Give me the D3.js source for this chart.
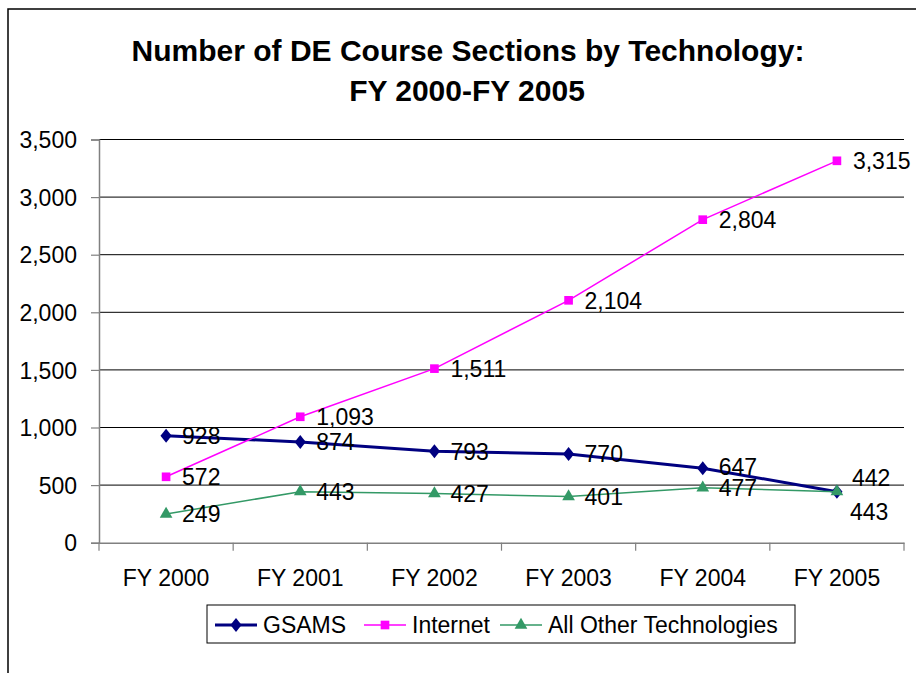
<!DOCTYPE html>
<meta charset="utf-8">
<script src="https://d3js.org/d3.v7.min.js"></script>
<style>
body { margin: 0; background: #fff; }
svg text { font-family: "Liberation Sans", Arial, sans-serif; fill: #000; }
</style>
<div id="chart"></div>
<script>

// data
var years = ["FY 2000", "FY 2001", "FY 2002", "FY 2003", "FY 2004", "FY 2005"];
var gsams = [928, 874, 793, 770, 647, 442];
var internet = [572, 1093, 1511, 2104, 2804, 3315];
var otherTech = [249, 443, 427, 401, 477, 443];
var yTicks = [0, 500, 1000, 1500, 2000, 2500, 3000, 3500];

var series = [
  {name: "GSAMS", values: gsams, color: "#000080", width: 3, marker: d3.symbolDiamond, size: 70},
  {name: "Internet", values: internet, color: "#FF00FF", width: 1.5, marker: d3.symbolSquare, size: 75},
  {name: "All Other Technologies", values: otherTech, color: "#339966", width: 1.5, marker: d3.symbolTriangle, size: 70}
];

var W = 916, H = 673;
var plot = {left: 99, right: 904, top: 139.5, bottom: 542.7};

var svg = d3.select("#chart")
  .append("svg")
    .attr("width", W)
    .attr("height", H);

// outer frame
svg.append("rect")
  .attr("x", 8).attr("y", 9)
  .attr("width", W).attr("height", H)
  .attr("fill", "none")
  .attr("stroke", "#000")
  .attr("stroke-width", 1.5);

// title
svg.append("text")
  .attr("x", 468).attr("y", 60.5)
  .attr("text-anchor", "middle")
  .style("font-size", "30px")
  .style("font-weight", "bold")
  .text("Number of DE Course Sections by Technology:");
svg.append("text")
  .attr("x", 467).attr("y", 101)
  .attr("text-anchor", "middle")
  .style("font-size", "30px")
  .style("font-weight", "bold")
  .text("FY 2000-FY 2005");

var x = d3.scaleBand()
  .domain(years)
  .range([plot.left, plot.right]);

var y = d3.scaleLinear()
  .domain([0, 3500])
  .range([plot.bottom, plot.top]);

// gridlines
svg.append("g")
  .selectAll("line")
  .data(yTicks.filter(function(d) { return d > 0; }))
  .enter()
  .append("line")
    .attr("x1", plot.left).attr("x2", plot.right)
    .attr("y1", function(d) { return y(d); })
    .attr("y2", function(d) { return y(d); })
    .attr("stroke", "#000")
    .attr("stroke-width", 1);

// y axis
var yAxis = svg.append("g")
  .attr("transform", "translate(" + plot.left + ",0)")
  .call(d3.axisLeft(y).tickValues(yTicks).tickFormat(d3.format(",")).tickSize(8).tickPadding(14));
yAxis.select(".domain").attr("stroke", "#808080").attr("stroke-width", 1.5);
yAxis.selectAll(".tick line").attr("stroke", "#808080").attr("stroke-width", 1.2);
yAxis.selectAll("text")
  .style("font-size", "23px")
  .style("font-family", "'Liberation Sans', Arial, sans-serif")
  .attr("dy", "0.36em");

// x axis
var xAxis = svg.append("g")
  .attr("transform", "translate(0," + plot.bottom + ")")
  .call(d3.axisBottom(x).tickSize(0).tickPadding(0));
xAxis.select(".domain").attr("stroke", "#808080").attr("stroke-width", 1.5);
xAxis.selectAll("text")
  .style("font-size", "23px")
  .style("font-family", "'Liberation Sans', Arial, sans-serif")
  .attr("y", 43)
  .attr("dy", 0);
// category boundary ticks
xAxis.append("g")
  .selectAll("line")
  .data(d3.range(years.length + 1))
  .enter()
  .append("line")
    .attr("x1", function(i) { return plot.left + i * x.step(); })
    .attr("x2", function(i) { return plot.left + i * x.step(); })
    .attr("y1", 0).attr("y2", 8)
    .attr("stroke", "#808080")
    .attr("stroke-width", 1.2);

var cx = function(i) { return x(years[i]) + x.bandwidth() / 2; };

// lines + markers
series.forEach(function(s) {
  var line = d3.line()
    .x(function(d, i) { return cx(i); })
    .y(function(d) { return y(d); });

  svg.append("path")
    .datum(s.values)
    .attr("d", line)
    .attr("fill", "none")
    .attr("stroke", s.color)
    .attr("stroke-width", s.width);

  svg.append("g")
    .selectAll("path")
    .data(s.values)
    .enter()
    .append("path")
      .attr("d", d3.symbol().type(s.marker).size(s.size))
      .attr("transform", function(d, i) {
        var sx = s.marker === d3.symbolDiamond ? "scale(1.25,0.9)" : "";
        return "translate(" + cx(i) + "," + y(d) + ")" + sx;
      })
      .attr("fill", s.color);
});

// data labels
var fmt = d3.format(",");
var labelShift = {"GSAMS-4": [16, -1], "GSAMS-5": [15, -14], "All Other Technologies-5": [13, 20]};
series.forEach(function(s) {
  svg.append("g")
    .selectAll("text")
    .data(s.values)
    .enter()
    .append("text")
      .attr("x", function(d, i) {
        var sh = labelShift[s.name + "-" + i];
        return cx(i) + (sh ? sh[0] : 16);
      })
      .attr("y", function(d, i) {
        var sh = labelShift[s.name + "-" + i];
        return y(d) + (sh ? sh[1] : 0);
      })
      .attr("dy", "0.36em")
      .style("font-size", "23px")
      .text(function(d) { return fmt(d); });
});

// legend
var legend = svg.append("g");
legend.append("rect")
  .attr("x", 207).attr("y", 605)
  .attr("width", 588).attr("height", 38)
  .attr("fill", "#fff")
  .attr("stroke", "#000")
  .attr("stroke-width", 1);

var legendX = [215, 364, 500];
series.forEach(function(s, i) {
  var g = legend.append("g").attr("transform", "translate(" + legendX[i] + ",625)");
  g.append("line")
    .attr("x1", 0).attr("x2", 42)
    .attr("stroke", s.color)
    .attr("stroke-width", s.width);
  g.append("path")
    .attr("d", d3.symbol().type(s.marker).size(s.size))
    .attr("transform", "translate(21,0)" + (s.marker === d3.symbolDiamond ? "scale(1.25,0.9)" : ""))
    .attr("fill", s.color);
  g.append("text")
    .attr("x", 48)
    .attr("dy", "0.36em")
    .style("font-size", "23px")
    .text(s.name);
});

</script>
